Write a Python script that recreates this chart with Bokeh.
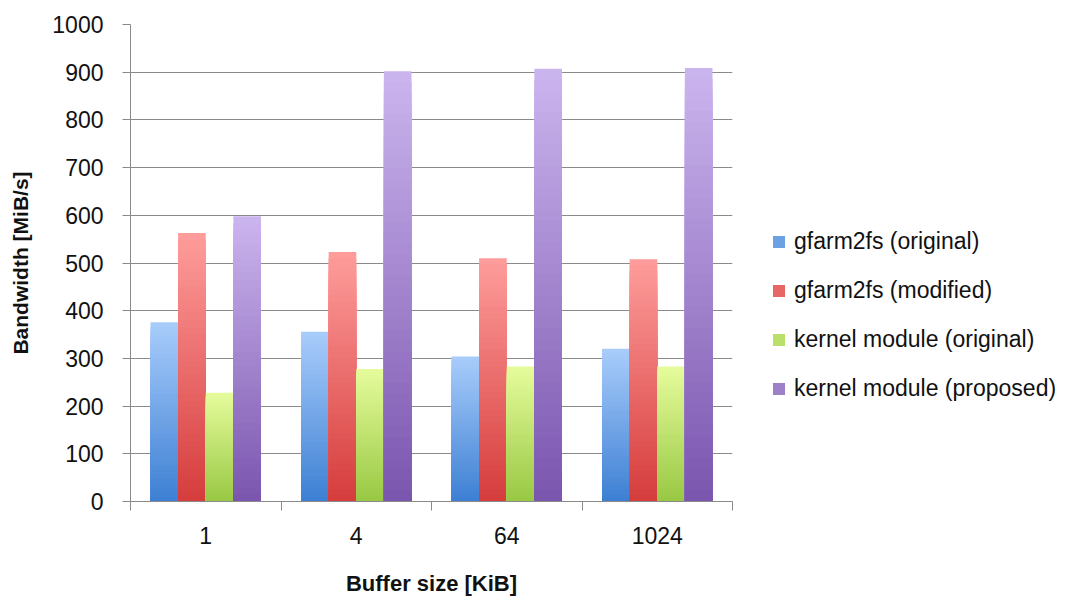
import numpy as np
from bokeh.plotting import figure
from bokeh.models import Range1d, FixedTicker, Legend, LegendItem, ColumnDataSource
from bokeh.embed import file_html
from bokeh.resources import INLINE

# ---- data ----
buffer_sizes = ["1", "4", "64", "1024"]
series_names = ["gfarm2fs (original)", "gfarm2fs (modified)",
                "kernel module (original)", "kernel module (proposed)"]
gfarm2fs_original = [376, 356, 304, 320]
gfarm2fs_modified = [563, 523, 510, 508]
kernel_module_original = [228, 278, 283, 283]
kernel_module_proposed = [598, 902, 907, 909]
y_ticks = [0, 100, 200, 300, 400, 500, 600, 700, 800, 900, 1000]

series_values = [gfarm2fs_original, gfarm2fs_modified,
                 kernel_module_original, kernel_module_proposed]

# gradient colours (bottom, top) per series
grad_colors = [("#3d7fd3", "#a9cdfb"),
               ("#d63c3c", "#fd9d9b"),
               ("#98c843", "#e6fc9c"),
               ("#7a55ae", "#cbb5ee")]

FONT = "Liberation Sans"


def hex2rgb(h):
    h = h.lstrip("#")
    return np.array([int(h[i:i + 2], 16) for i in (0, 2, 4)], dtype=float)


def mix(c0, c1, t):
    c = hex2rgb(c0) * (1 - t) + hex2rgb(c1) * t
    return "#%02x%02x%02x" % tuple(int(round(v)) for v in c)


p = figure(frame_width=602, frame_height=477, output_backend="svg", toolbar_location=None,
           x_range=Range1d(0, 4), y_range=Range1d(0, 1000),
           min_border_left=130, min_border_right=0,
           min_border_top=24, min_border_bottom=93)
p.outline_line_color = None
p.background_fill_color = "white"
p.border_fill_color = "white"

n_groups = len(buffer_sizes)
centers = np.arange(n_groups) + 0.5
bar_w = 0.1835
offsets = [-1.5 * bar_w, -0.5 * bar_w, 0.5 * bar_w, 1.5 * bar_w]

N = 40
LEG_K = 18  # gradient level used for the legend swatch
legend_items = []
for s, (name, vals) in enumerate(zip(series_names, series_values)):
    c_bot, c_top = grad_colors[s]
    xs, tops, cols = [], [], []
    # layered gradient: full bar in top colour, then progressively shorter darker bars
    for k in range(N, 0, -1):
        t = (k - 0.5) / N
        col = mix(c_bot, c_top, t)
        for g in range(n_groups):
            xs.append(centers[g] + offsets[s])
            tops.append(vals[g] * k / N)
            cols.append(col)
    src = ColumnDataSource(dict(x=xs, top=tops, color=cols))
    r = p.vbar(x="x", top="top", bottom=0, width=bar_w, source=src,
               fill_color="color", line_color=None)
    legend_items.append(LegendItem(label=name, renderers=[r],
                                   index=(N - LEG_K) * n_groups))

# ---- axes ----
grey = "#8a8a8a"
p.yaxis.ticker = FixedTicker(ticks=y_ticks, minor_ticks=[])
p.yaxis.axis_line_color = grey
p.yaxis.major_tick_line_color = grey
p.yaxis.major_tick_out = 8
p.yaxis.major_tick_in = 0
p.yaxis.minor_tick_line_color = None
p.yaxis.major_label_standoff = 19
p.yaxis.major_label_text_font = FONT
p.yaxis.major_label_text_font_size = "23px"
p.yaxis.major_label_text_color = "#111111"
p.yaxis.axis_label = "Bandwidth [MiB/s]"
p.yaxis.axis_label_text_font = FONT
p.yaxis.axis_label_text_font_size = "21px"
p.yaxis.axis_label_text_font_style = "bold"
p.yaxis.axis_label_text_color = "#111111"
p.yaxis.axis_label_standoff = 17

p.xaxis.ticker = FixedTicker(ticks=list(centers), minor_ticks=list(range(n_groups + 1)))
p.xaxis.major_label_overrides = {float(c): lab for c, lab in zip(centers, buffer_sizes)}
p.xaxis.axis_line_color = grey
p.xaxis.major_tick_line_color = None
p.xaxis.major_tick_out = 0
p.xaxis.major_tick_in = 0
p.xaxis.minor_tick_line_color = grey
p.xaxis.minor_tick_out = 9
p.xaxis.minor_tick_in = 0
p.xaxis.major_label_standoff = 16
p.xaxis.major_label_text_font = FONT
p.xaxis.major_label_text_font_size = "23px"
p.xaxis.major_label_text_color = "#111111"
p.xaxis.axis_label = "Buffer size [KiB]"
p.xaxis.axis_label_text_font = FONT
p.xaxis.axis_label_text_font_size = "22px"
p.xaxis.axis_label_text_font_style = "bold"
p.xaxis.axis_label_text_color = "#111111"
p.xaxis.axis_label_standoff = 24

p.xgrid.grid_line_color = None
p.ygrid.ticker = FixedTicker(ticks=y_ticks[1:])
p.ygrid.grid_line_color = grey
p.ygrid.grid_line_width = 1

# ---- legend ----
legend = Legend(items=legend_items, location=(39, 99),
                orientation="vertical",
                glyph_width=15, glyph_height=15,
                label_text_font=FONT, label_text_font_size="23px",
                label_text_color="#111111", label_standoff=8,
                label_height=25, spacing=22, padding=0, margin=0,
                border_line_color=None, background_fill_alpha=0)
p.add_layout(legend, "right")

open("out.html", "w").write(file_html(p, INLINE))
